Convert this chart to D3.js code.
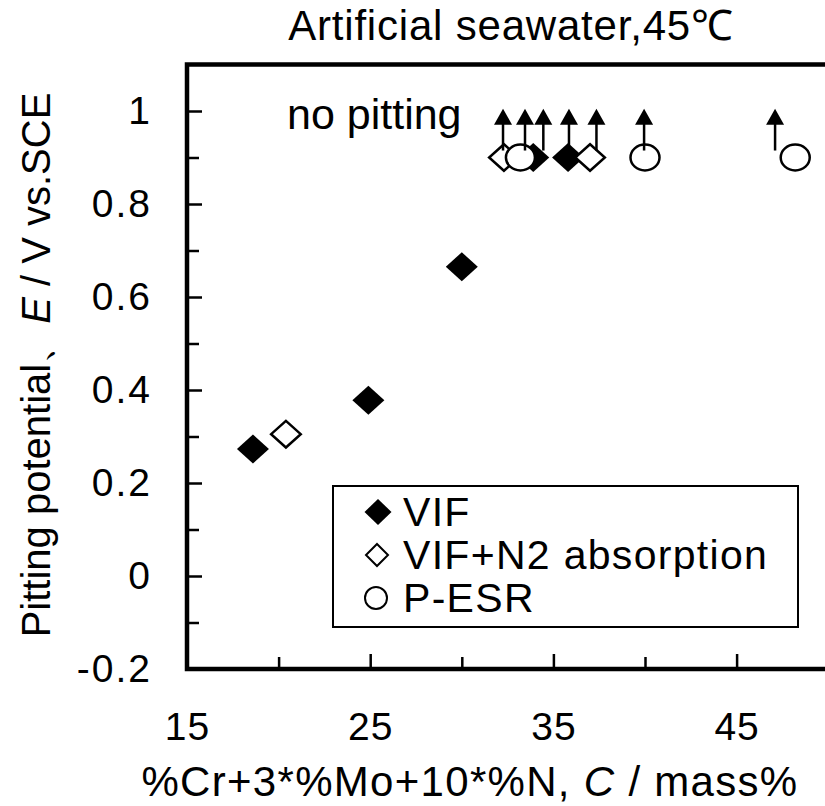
<!DOCTYPE html>
<html>
<head>
<meta charset="utf-8">
<script src="https://cdn.jsdelivr.net/npm/d3@7"></script>
<style>
  html, body { margin: 0; padding: 0; background: #fff; }
  svg { display: block; }
  text { font-family: "Liberation Sans", Arial, sans-serif; fill: #000; }
</style>
</head>
<body>
<svg id="chart" width="825" height="806"></svg>
<script>
// Pitting potential vs. PREN-type composition index
const vifX = [18.6, 24.9, 30.0, 33.9, 35.8];
const vifY = [0.273, 0.378, 0.665, 0.9, 0.9];
const n2X = [20.4, 32.3, 37.0];
const n2Y = [0.305, 0.9, 0.9];
const esrX = [33.2, 40.0, 48.2];
const esrY = [0.9, 0.9, 0.9];
// "no pitting" arrows (potential exceeds range)
const arrowX = [32.25, 33.45, 34.45, 35.85, 37.35, 39.95, 47.1];
const arrowBase = 0.915;
const arrowTip = 1.005;

const xMajorTicks = [15, 25, 35, 45];
const xMinorTicks = [20, 30, 40, 50];
const yMajorTicks = [-0.2, 0, 0.2, 0.4, 0.6, 0.8, 1.0];
const yMinorTicks = [-0.1, 0.1, 0.3, 0.5, 0.7, 0.9];
const legendLabels = ["VIF", "VIF+N2 absorption", "P-ESR"];

const svg = d3.select("#chart");
const x = d3.scaleLinear().domain([15, 50]).range([187, 828.2]);
const y = d3.scaleLinear().domain([-0.2, 1.1]).range([669, 64.5]);

const fmt = v => String(+v.toFixed(1));

// tick marks (inward)
function drawAxes() {
  const gx = svg.append("g").attr("transform", `translate(0,${y(-0.2)})`);
  gx.call(d3.axisBottom(x).tickValues(xMajorTicks).tickSize(-15).tickPadding(43).tickFormat(d3.format("d")));
  const gx2 = svg.append("g").attr("transform", `translate(0,${y(-0.2)})`);
  gx2.call(d3.axisBottom(x).tickValues(xMinorTicks).tickSize(-12).tickFormat(""));
  const gy = svg.append("g").attr("transform", `translate(${x(15)},0)`);
  gy.call(d3.axisLeft(y).tickValues(yMajorTicks).tickSize(-15).tickPadding(37).tickFormat(fmt));
  const gy2 = svg.append("g").attr("transform", `translate(${x(15)},0)`);
  gy2.call(d3.axisLeft(y).tickValues(yMinorTicks).tickSize(-12).tickFormat(""));
  [gx, gx2, gy, gy2].forEach(g => {
    g.select(".domain").remove();
    g.selectAll(".tick line").attr("stroke", "#000").attr("stroke-width", 2.5);
    g.selectAll(".tick text").style("font-size", "39px").attr("fill", "#000");
  });
  gy.selectAll(".tick text").style("letter-spacing", "2px").attr("dx", "2px");
  gx.selectAll(".tick text").style("letter-spacing", "1px");
}
drawAxes();

// plot frame
svg.append("rect")
  .attr("x", x(15)).attr("y", y(1.1))
  .attr("width", x(50) - x(15)).attr("height", y(-0.2) - y(1.1))
  .attr("fill", "none").attr("stroke", "#000").attr("stroke-width", 4.5);

function diamondPath(cx, cy, w, h) {
  return `M${cx},${cy - h}L${cx + w},${cy}L${cx},${cy + h}L${cx - w},${cy}Z`;
}

// VIF: filled diamonds
svg.append("g").selectAll("path").data(vifX.map((v, i) => [v, vifY[i]])).join("path")
  .attr("d", d => diamondPath(x(d[0]), y(d[1]), 16, 14.5))
  .attr("fill", "#000");

// VIF+N2 absorption: open diamonds
svg.append("g").selectAll("path").data(n2X.map((v, i) => [v, n2Y[i]])).join("path")
  .attr("d", d => diamondPath(x(d[0]), y(d[1]), 14.8, 13.3))
  .attr("fill", "#fff").attr("stroke", "#000").attr("stroke-width", 2.5);

// P-ESR: open circles
svg.append("g").selectAll("ellipse").data(esrX.map((v, i) => [v, esrY[i]])).join("ellipse")
  .attr("cx", d => x(d[0])).attr("cy", d => y(d[1]))
  .attr("rx", 14.5).attr("ry", 13)
  .attr("fill", "#fff").attr("stroke", "#000").attr("stroke-width", 2.5);

// arrows
const ag = svg.append("g");
ag.selectAll("line").data(arrowX).join("line")
  .attr("x1", d => x(d)).attr("x2", d => x(d))
  .attr("y1", y(arrowBase)).attr("y2", y(arrowTip) + 10)
  .attr("stroke", "#000").attr("stroke-width", 2.5);
ag.selectAll("path").data(arrowX).join("path")
  .attr("d", d => `M${x(d)},${y(arrowTip)}L${x(d) + 9},${y(arrowTip) + 16}L${x(d) - 9},${y(arrowTip) + 16}Z`)
  .attr("fill", "#000");

// annotation
svg.append("text").attr("x", 287).attr("y", 129)
  .style("font-size", "43px").text("no pitting");

// title
svg.append("text").attr("x", 511).attr("y", 40).attr("text-anchor", "middle")
  .style("font-size", "42px").style("letter-spacing", "0.8px").text("Artificial seawater,45℃");

// axis titles
const xt = svg.append("text").attr("x", 470).attr("y", 796).attr("text-anchor", "middle")
  .style("font-size", "42px").style("letter-spacing", "1.3px");
xt.append("tspan").text("%Cr+3*%Mo+10*%N, ");
xt.append("tspan").style("font-style", "italic").text("C");
xt.append("tspan").text(" / mass%");

const yt = svg.append("text").attr("transform", "translate(50,365) rotate(-90)")
  .attr("text-anchor", "middle").style("font-size", "40px");
yt.append("tspan").text("Pitting potential、");
yt.append("tspan").style("font-style", "italic").text("E");
yt.append("tspan").text(" / V vs.SCE");

// legend
const lg = svg.append("g");
lg.append("rect").attr("x", 333).attr("y", 486).attr("width", 465).attr("height", 141)
  .attr("fill", "#fff").attr("stroke", "#000").attr("stroke-width", 2);
const rowY = [512, 555, 598];
lg.append("path").attr("d", diamondPath(378, rowY[0], 13.5, 13)).attr("fill", "#000");
lg.append("path").attr("d", diamondPath(377, rowY[1], 11, 11)).attr("fill", "#fff")
  .attr("stroke", "#000").attr("stroke-width", 2);
lg.append("circle").attr("cx", 376).attr("cy", rowY[2]).attr("r", 11).attr("fill", "#fff")
  .attr("stroke", "#000").attr("stroke-width", 2);
lg.selectAll("text.lab").data(legendLabels).join("text").attr("class", "lab")
  .attr("x", 403).attr("y", (d, i) => rowY[i] + 14)
  .style("font-size", "41px").style("letter-spacing", "1.3px").text(d => d);
</script>
</body>
</html>
